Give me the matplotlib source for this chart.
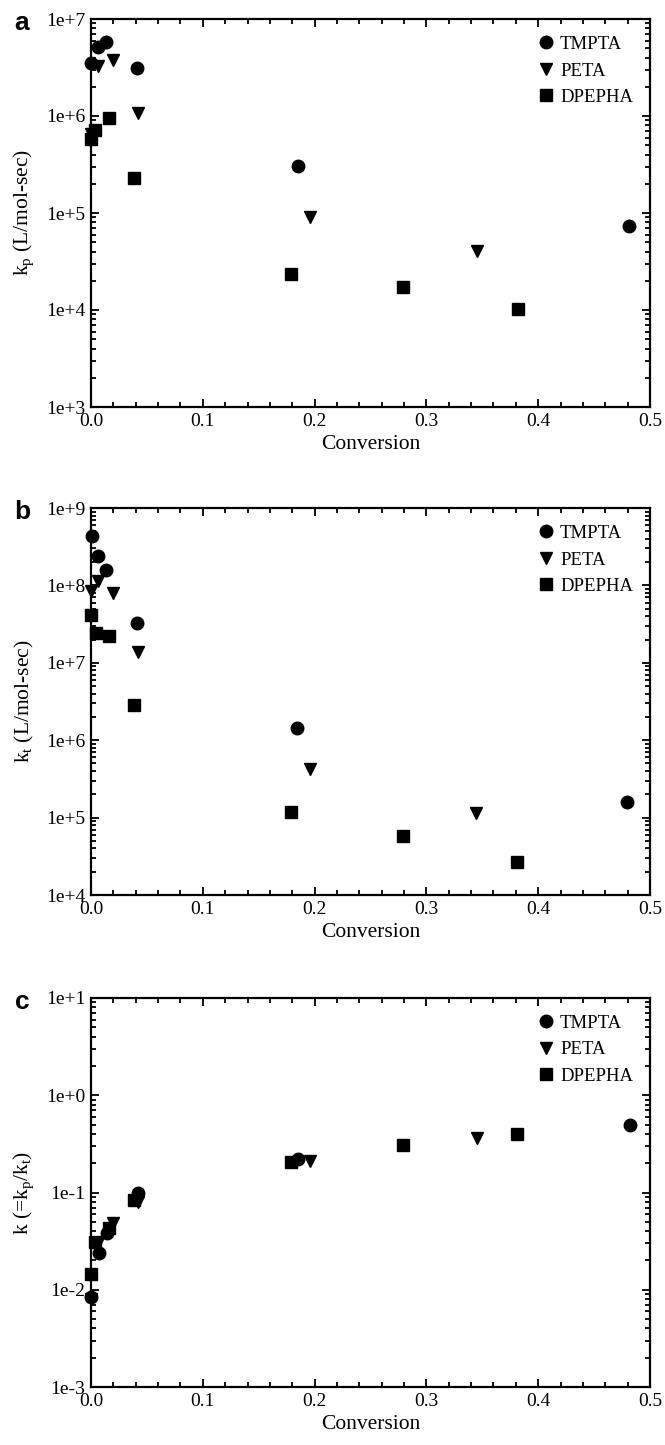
import numpy as np
import matplotlib
matplotlib.use('Agg')
import matplotlib.pyplot as plt
from matplotlib.ticker import MultipleLocator, LogLocator, NullFormatter, FuncFormatter, FormatStrFormatter

plt.rcParams['font.family'] = ['Liberation Serif', 'DejaVu Serif']
plt.rcParams['mathtext.fontset'] = 'custom'
plt.rcParams['mathtext.rm'] = 'Liberation Serif'
plt.rcParams['mathtext.it'] = 'Liberation Serif:italic'

series = ['TMPTA', 'PETA', 'DPEPHA']
markers = ['o', 'v', 's']

# panel a: kp
kp_x_tmpta = [0.0, 0.0066, 0.0132, 0.0414, 0.185, 0.481]
kp_tmpta = [3.5e6, 5.2e6, 5.75e6, 3.1e6, 3.05e5, 7.4e4]
kp_x_peta = [0.0, 0.006, 0.020, 0.042, 0.196, 0.345]
kp_peta = [6.5e5, 3.3e6, 3.8e6, 1.08e6, 9.0e4, 4.1e4]
kp_x_dpepha = [0.0, 0.004, 0.016, 0.0387, 0.179, 0.279, 0.382]
kp_dpepha = [5.85e5, 7.1e5, 9.6e5, 2.3e5, 2.36e4, 1.72e4, 1.02e4]

# panel b: kt
kt_x_tmpta = [0.0013, 0.0066, 0.0132, 0.0414, 0.1844, 0.479]
kt_tmpta = [4.4e8, 2.4e8, 1.57e8, 3.3e7, 1.43e6, 1.59e5]
kt_x_peta = [0.0, 0.006, 0.020, 0.042, 0.196, 0.344]
kt_peta = [8.5e7, 1.14e8, 7.9e7, 1.39e7, 4.3e5, 1.13e5]
kt_x_dpepha = [0.0, 0.0043, 0.016, 0.0384, 0.1788, 0.2788, 0.3808]
kt_dpepha = [4.2e7, 2.46e7, 2.23e7, 2.85e6, 1.18e5, 5.8e4, 2.64e4]

# panel c: k = kp/kt
k_x_tmpta = [0.0, 0.0073, 0.0139, 0.042, 0.185, 0.482]
k_tmpta = [8.4e-3, 0.0236, 0.0386, 0.098, 0.223, 0.495]
k_x_peta = [0.0, 0.006, 0.020, 0.042, 0.196, 0.345]
k_peta = [8.0e-3, 0.030, 0.049, 0.080, 0.211, 0.363]
k_x_dpepha = [0.0, 0.004, 0.016, 0.0385, 0.179, 0.279, 0.381]
k_dpepha = [0.0146, 0.031, 0.043, 0.084, 0.207, 0.305, 0.395]

panels = [
    ('a', r'k$_\mathrm{p}$ (L/mol-sec)', (1e3, 1e7),
     [(kp_x_tmpta, kp_tmpta), (kp_x_peta, kp_peta), (kp_x_dpepha, kp_dpepha)]),
    ('b', r'k$_\mathrm{t}$ (L/mol-sec)', (1e4, 1e9),
     [(kt_x_tmpta, kt_tmpta), (kt_x_peta, kt_peta), (kt_x_dpepha, kt_dpepha)]),
    ('c', r'k (=k$_\mathrm{p}$/k$_\mathrm{t}$)', (1e-3, 1e1),
     [(k_x_tmpta, k_tmpta), (k_x_peta, k_peta), (k_x_dpepha, k_dpepha)]),
]

W, H = 665, 1445
fig = plt.figure(figsize=(W / 100, H / 100), dpi=100)

tops = [19, 508, 998]
bottoms = [407, 895, 1387]
left, right = 91, 650

def fmt_exp(v, pos):
    return '1e%+d' % int(round(np.log10(v)))

for (letter, ylab, ylim, data), top, bot in zip(panels, tops, bottoms):
    ax = fig.add_axes([left / W, 1 - bot / H, (right - left) / W, (bot - top) / H])
    for (xs, ys), m, name in zip(data, markers, series):
        ms = 9 if m != 's' else 8
        ax.plot(xs, ys, linestyle='none', marker=m, color='black', markersize=ms,
                label=name, clip_on=False, zorder=3)
    ax.set_yscale('log')
    ax.set_xlim(0, 0.5)
    ax.set_ylim(*ylim)
    ax.xaxis.set_major_locator(MultipleLocator(0.1))
    ax.xaxis.set_minor_locator(MultipleLocator(0.02))
    ax.xaxis.set_major_formatter(FormatStrFormatter('%.1f'))
    ax.yaxis.set_major_locator(LogLocator(base=10, numticks=20))
    ax.yaxis.set_minor_locator(LogLocator(base=10, subs=np.arange(2, 10), numticks=20))
    ax.yaxis.set_major_formatter(FuncFormatter(fmt_exp))
    ax.yaxis.set_minor_formatter(NullFormatter())
    ax.tick_params(which='both', direction='in', top=True, right=True, width=1.3, labelsize=14)
    ax.tick_params(which='major', length=6, pad=4)
    ax.tick_params(which='minor', length=3.5)
    for s in ax.spines.values():
        s.set_linewidth(1.6)
    ax.set_xlabel('Conversion', fontsize=15.5, labelpad=4)
    ax.set_ylabel(ylab, fontsize=15.5, labelpad=7)
    ax.legend(loc='upper right', frameon=False, fontsize=13.5, handletextpad=0.25,
              handlelength=1.0, labelspacing=0.5, borderaxespad=0.5)
    fig.text(22 / W, 1 - (top + 4) / H, letter, fontsize=19, fontweight='bold',
             family='Liberation Sans', ha='center', va='center')

fig.savefig('out.png', dpi=100)
